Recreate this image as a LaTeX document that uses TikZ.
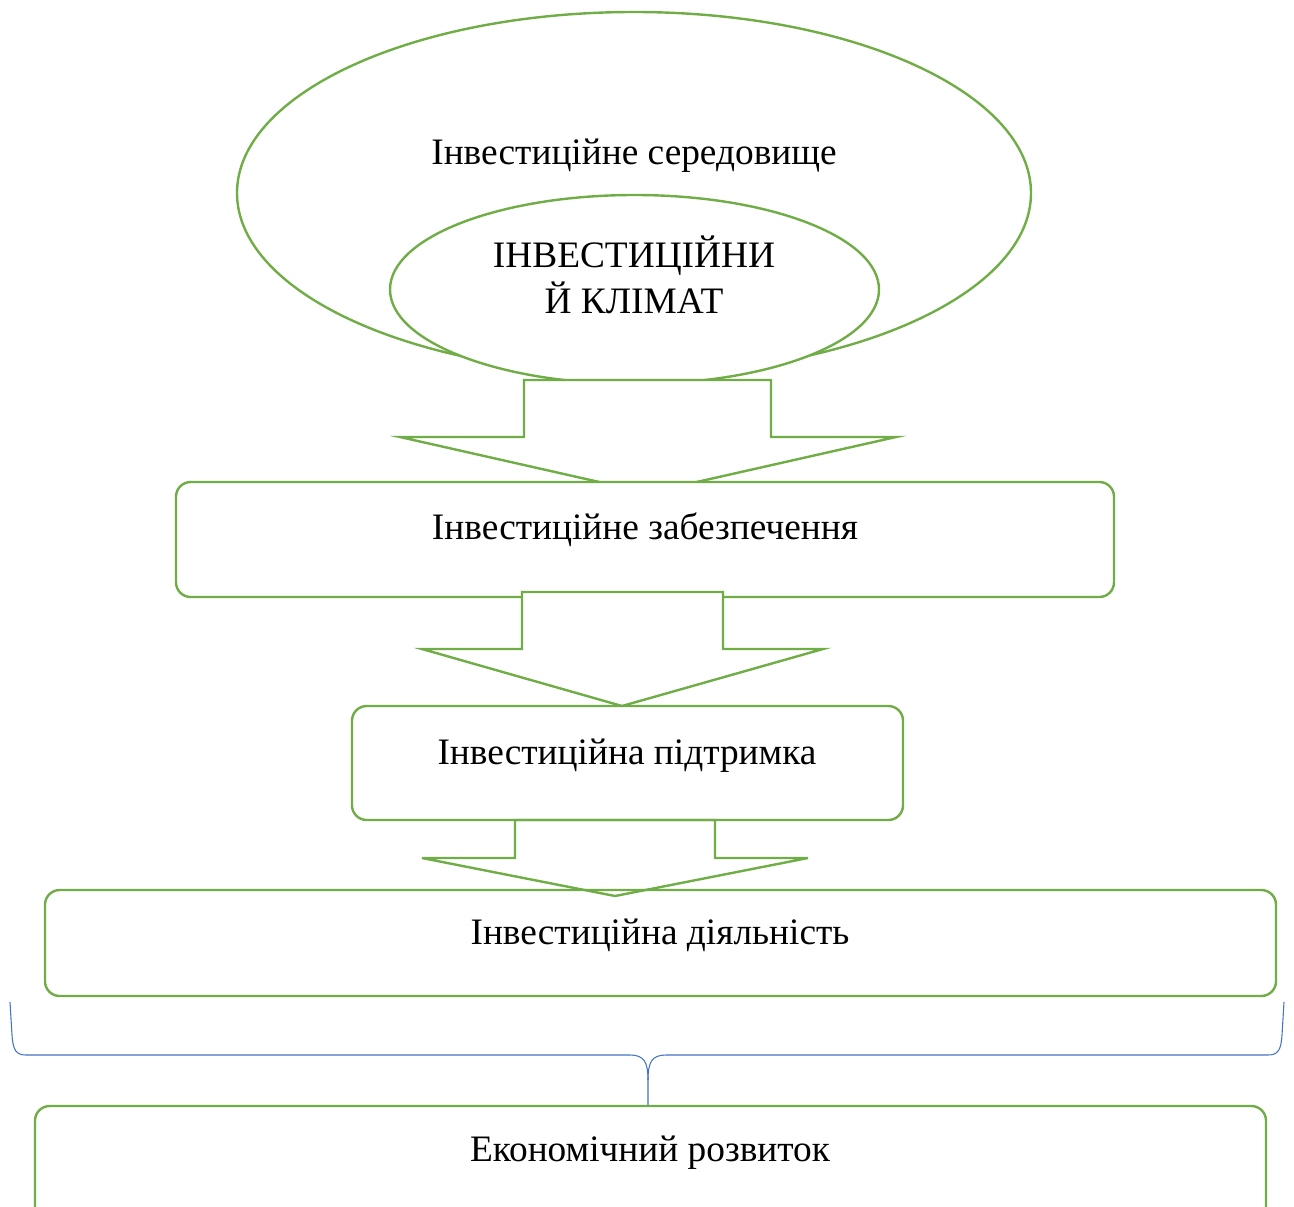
\documentclass[tikz,border=0pt]{standalone}
\usepackage{fontspec}
\setmainfont{Liberation Serif}
\usetikzlibrary{shapes.geometric}
\definecolor{grn}{HTML}{70AD47}
\definecolor{blu}{HTML}{4472C4}
\tikzset{
  gline/.style={draw=grn, line width=1.8pt, line join=miter},
  boxstyle/.style={gline, rounded corners=11pt, fill=white},
  lbl/.style={font=\fontsize{28}{32}\selectfont, inner sep=0pt, anchor=base},
  bracestyle/.style={draw=blu, line width=0.8pt}
}
\begin{document}
\begin{tikzpicture}[x=0.75pt, y=-0.75pt]
\useasboundingbox (0,0) rectangle (1294,1206);
% ellipses
\coordinate (env) at (634,193);
\coordinate (climate) at (634.5,289.5);
\draw[gline] (env) ellipse [x radius=397, y radius=181];
\draw[gline, fill=white] (climate) ellipse [x radius=244.5, y radius=94.5];
\node[lbl] (envtxt) at (634,164) {Інвестиційне середовище};
\node[lbl] (clim1) at (634,267) {ІНВЕСТИЦІЙНИ};
\node[lbl] (clim2) at (634,313) {Й КЛІМАТ};
% arrow 1
\draw[gline, fill=white] (524,380) -- (771,380) -- (771,437) -- (896,437) -- (648,493) -- (400,437) -- (524,437) -- cycle;
% box 1
\draw[boxstyle] (176,482) rectangle (1114,597);
\node[lbl] (b1txt) at (645,539) {Інвестиційне забезпечення};
% arrow 2
\draw[gline, fill=white] (522,592) -- (723,592) -- (723,649) -- (823,649) -- (622,706) -- (422,649) -- (522,649) -- cycle;
% box 2
\draw[boxstyle] (352,706) rectangle (903,820);
\node[lbl] (b2txt) at (627,764) {Інвестиційна підтримка};
% box 3
\draw[boxstyle] (45,890) rectangle (1276,996);
\node[lbl] (b3txt) at (660,944) {Інвестиційна діяльність};
% arrow 3
\draw[gline] (515,820) -- (715,820) -- (715,858) -- (808,858) -- (615,896) -- (422,858) -- (515,858) -- cycle;
% brace
\coordinate (brL) at (10,1002);
\coordinate (brR) at (1284,1002);
\coordinate (brM) at (648,1106);
\draw[bracestyle] (brL) -- (12,1035) .. controls (13,1050) and (16,1055) .. (26,1055) -- (630,1055) .. controls (644,1055) and (648,1062) .. (648,1080) -- (brM);
\draw[bracestyle] (brR) -- (1282,1035) .. controls (1281,1050) and (1278,1055) .. (1268,1055) -- (666,1055) .. controls (652,1055) and (648,1062) .. (648,1080);
% box 4 (cut by the page)
\draw[gline, rounded corners=11pt] (35,1240) -- (35,1106) -- (1266,1106) -- (1266,1240);
\node[lbl] (b4txt) at (650,1161) {Економічний розвиток};
\end{tikzpicture}
\end{document}
